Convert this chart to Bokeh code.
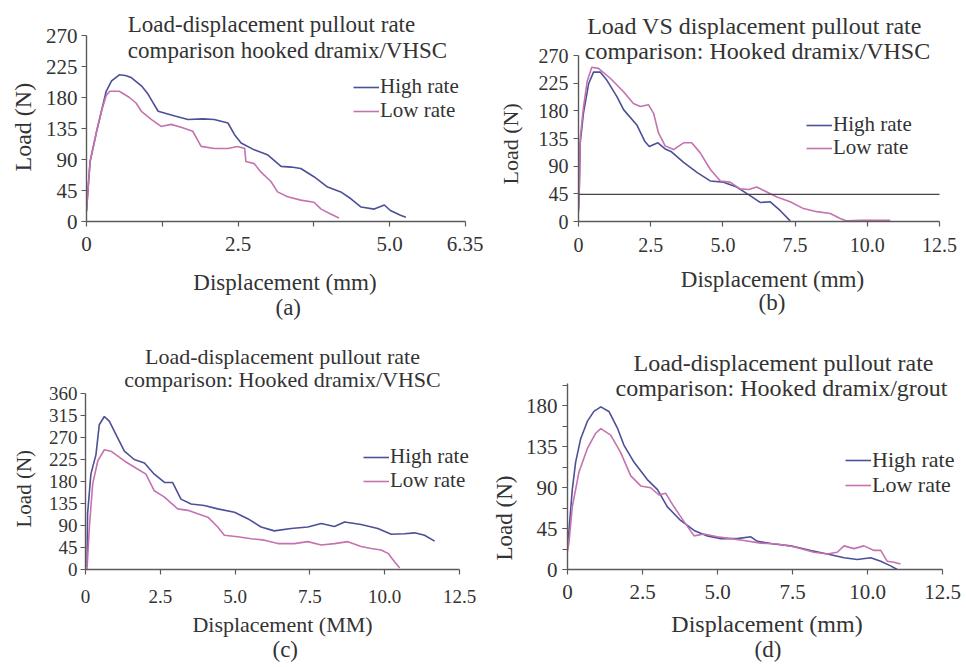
from bokeh.plotting import figure
from bokeh.models import Label, Legend, LegendItem, FixedTicker, Range1d, Title
from bokeh.layouts import column, row
from bokeh.embed import file_html
from bokeh.resources import INLINE

FONT = "Liberation Serif"
TEXT = "#333333"
AXIS = "#5a5a5a"
HIGH = "#4c5096"
LOW = "#c572ae"

series_names = ["High rate", "Low rate"]
y_label = "Load (N)"

# ---------------- Panel (a) ----------------
a_title = ["Load-displacement pullout rate", "comparison hooked dramix/VHSC"]
a_xlabel = "Displacement (mm)"
a_xticks = [0, 1.27, 2.54, 3.81, 5.08, 6.35]
a_xtick_labels = ["0", "", "2.5", "", "5.0", "6.35"]
a_yticks = [0, 45, 90, 135, 180, 225, 270]
a_high_x = [0.0, 0.01, 0.06, 0.17, 0.25, 0.33, 0.42, 0.55, 0.65, 0.75, 0.92, 1.03, 1.20, 1.48,
            1.70, 1.95, 2.14, 2.37, 2.48, 2.59, 2.81, 3.03, 3.26, 3.43, 3.59, 3.81, 4.04, 4.26,
            4.43, 4.60, 4.82, 4.99, 5.09, 5.26, 5.35]
a_high_y = [15, 28, 87, 131, 160, 189, 204, 213, 212, 209, 197, 185, 160, 153,
            148, 149, 148, 143, 126, 114, 104, 97, 80, 79, 77, 65, 50, 43,
            33, 21, 18, 24, 16, 9, 6]
a_low_x = [0.0, 0.01, 0.06, 0.17, 0.25, 0.33, 0.39, 0.55, 0.72, 0.83, 0.92, 1.09, 1.25, 1.42,
           1.61, 1.78, 1.92, 2.14, 2.37, 2.53, 2.65, 2.67, 2.81, 2.92, 3.09, 3.20, 3.37, 3.59,
           3.81, 3.93, 4.09, 4.23]
a_low_y = [15, 28, 87, 131, 160, 183, 189, 189, 180, 172, 160, 148, 138, 141,
           136, 131, 109, 106, 106, 109, 106, 87, 84, 72, 58, 43, 36, 31,
           28, 18, 11, 5]

# ---------------- Panel (b) ----------------
b_title = ["Load VS displacement pullout rate", "comparison: Hooked dramix/VHSC"]
b_xlabel = "Displacement (mm)"
b_xticks = [0, 2.5, 5.0, 7.5, 10.0, 12.5]
b_xtick_labels = ["0", "2.5", "5.0", "7.5", "10.0", "12.5"]
b_yticks = [0, 45, 90, 135, 180, 225, 270]
b_ref_load = 44
b_high_x = [0.0, 0.02, 0.06, 0.17, 0.35, 0.52, 0.75, 0.98, 1.33, 1.56, 2.02, 2.30, 2.45, 2.75,
            3.00, 3.20, 3.64, 4.10, 4.56, 5.02, 5.48, 5.94, 6.29, 6.64, 6.98, 7.33]
b_high_y = [20, 37, 128, 176, 224, 243, 243, 230, 203, 182, 157, 130, 122, 128,
            118, 114, 96, 80, 66, 64, 56, 42, 31, 32, 18, 1]
b_low_x = [0.0, 0.02, 0.06, 0.17, 0.30, 0.46, 0.69, 1.10, 1.56, 1.90, 2.14, 2.42, 2.60, 2.77,
           3.00, 3.29, 3.64, 3.92, 4.21, 4.56, 4.91, 5.25, 5.60, 5.90, 6.17, 6.52, 6.87, 7.33,
           7.79, 8.25, 8.72, 9.06, 9.29, 9.80, 10.30, 10.79]
b_low_y = [15, 40, 135, 185, 228, 251, 249, 233, 211, 192, 187, 190, 176, 144,
           123, 117, 128, 128, 112, 85, 66, 64, 53, 52, 56, 48, 40, 32,
           21, 16, 13, 5, 1, 2, 2, 2]

# ---------------- Panel (c) ----------------
c_title = ["Load-displacement pullout rate", "comparison: Hooked dramix/VHSC"]
c_xlabel = "Displacement (MM)"
c_xticks = [0, 2.5, 5.0, 7.5, 10.0, 12.5]
c_xtick_labels = ["0", "2.5", "5.0", "7.5", "10.0", "12.5"]
c_yticks = [0, 45, 90, 135, 180, 225, 270, 315, 360]
c_high_x = [0.05, 0.07, 0.18, 0.35, 0.46, 0.63, 0.80, 1.02, 1.30, 1.63, 1.97, 2.30, 2.64, 2.91,
            3.19, 3.53, 3.97, 4.42, 4.98, 5.42, 5.87, 6.31, 6.87, 7.43, 7.88, 8.32, 8.66, 9.21,
            9.77, 10.22, 10.66, 11.00, 11.33, 11.67]
c_high_y = [5, 114, 195, 235, 296, 313, 303, 276, 242, 225, 218, 195, 178, 178,
            144, 134, 131, 124, 117, 104, 87, 79, 84, 87, 94, 88, 97, 92,
            84, 72, 73, 75, 70, 58]
c_low_x = [0.05, 0.13, 0.24, 0.41, 0.63, 0.85, 1.30, 1.75, 2.02, 2.30, 2.64, 3.08, 3.42, 3.75,
           4.09, 4.42, 4.64, 5.09, 5.54, 5.98, 6.43, 6.98, 7.43, 7.88, 8.32, 8.77, 9.21, 9.55,
           9.88, 10.11, 10.33, 10.50]
c_low_y = [0, 87, 175, 222, 245, 242, 222, 205, 195, 161, 148, 124, 121, 114,
           107, 87, 70, 67, 63, 60, 53, 53, 57, 50, 53, 57, 47, 43,
           40, 33, 16, 3]

# ---------------- Panel (d) ----------------
d_title = ["Load-displacement pullout rate", "comparison: Hooked dramix/grout"]
d_xlabel = "Displacement (mm)"
d_xticks = [0, 2.5, 5.0, 7.5, 10.0, 12.5]
d_xtick_labels = ["0", "2.5", "5.0", "7.5", "10.0", "12.5"]
d_yticks = [0, 45, 90, 135, 180]
d_yminor = [0, 22.5, 45, 67.5, 90, 112.5, 135, 157.5, 180, 202.5]
d_high_x = [0.0, 0.05, 0.16, 0.27, 0.44, 0.66, 0.88, 1.11, 1.38, 1.66, 1.88, 2.22, 2.66, 3.00,
            3.33, 3.77, 4.22, 4.66, 5.11, 5.66, 6.11, 6.33, 6.88, 7.44, 8.11, 8.66, 9.22, 9.66,
            10.11, 10.44, 10.77, 10.99]
d_high_y = [30, 43, 88, 118, 144, 163, 174, 179, 174, 156, 137, 118, 99, 88,
            69, 54, 43, 37, 34, 34, 36, 31, 28, 26, 21, 17, 13, 11,
            13, 9, 4, 0]
d_low_x = [0.0, 0.05, 0.16, 0.38, 0.66, 0.94, 1.11, 1.44, 1.77, 2.11, 2.44, 2.77, 3.05, 3.27,
           3.55, 3.88, 4.22, 4.55, 4.99, 5.44, 5.88, 6.44, 6.99, 7.55, 8.21, 8.66, 8.99, 9.22,
           9.55, 9.88, 10.22, 10.44, 10.66, 10.88, 11.10]
d_low_y = [20, 30, 69, 107, 133, 150, 155, 148, 129, 103, 92, 90, 82, 84,
           69, 53, 37, 39, 36, 34, 32, 29, 28, 25, 19, 17, 19, 26,
           23, 26, 21, 21, 9, 8, 6]


def make_panel(cfg):
    W, H = cfg["size"]
    left, right, top, bottom = cfg["borders"]
    (x0, x1), (y0, y1) = cfg["xb"], cfg["yb"]
    # pixel geometry of the visible axes -> data ranges of the (larger) frame
    fw, fh = W - left - right, H - top - bottom
    xs = cfg["x_len_px"] / (x1 - x0)
    ys = cfg["y_len_px"] / (y1 - y0)
    p = figure(width=W, height=H, title=None,
               x_range=Range1d(x0, x0 + fw / xs), y_range=Range1d(y0, y0 + fh / ys),
               output_backend="svg", toolbar_location=None,
               min_border_left=left, min_border_right=right,
               min_border_top=top, min_border_bottom=bottom)
    p.outline_line_color = None
    p.xgrid.visible = False
    p.ygrid.visible = False
    p.background_fill_color = "white"
    p.border_fill_color = "white"

    r1 = p.line(cfg["hx"], cfg["hy"], line_color=HIGH, line_width=1.6)
    r2 = p.line(cfg["lx"], cfg["ly"], line_color=LOW, line_width=1.6)

    for ax in (p.xaxis[0], p.yaxis[0]):
        ax.axis_line_color = AXIS
        ax.axis_line_width = 1.4
        ax.major_tick_line_color = AXIS
        ax.major_tick_line_width = 1.2
        ax.major_tick_out = 5
        ax.major_tick_in = 0
        ax.minor_tick_line_color = AXIS
        ax.minor_tick_line_width = 1.2
        ax.minor_tick_out = 5
        ax.minor_tick_in = 0
        ax.major_label_text_font = FONT
        ax.major_label_text_color = TEXT
        ax.axis_label_text_font = FONT
        ax.axis_label_text_color = TEXT
        ax.axis_label_text_font_style = "normal"

    xa = p.xaxis[0]
    xa.bounds = (x0, x1)
    xa.ticker = FixedTicker(ticks=cfg["xticks"])
    xa.major_label_overrides = {t: s for t, s in zip(cfg["xticks"], cfg["xtick_labels"])}
    xa.major_label_text_font_size = cfg["tick_fs"]
    xa.major_label_standoff = cfg["xstand"]
    xa.axis_label = cfg["xlabel"]
    xa.axis_label_text_font_size = cfg["label_fs"]
    xa.axis_label_standoff = cfg["xlab_stand"]

    ya = p.yaxis[0]
    ya.bounds = (y0, y1)
    ya.ticker = FixedTicker(ticks=cfg["yticks"], minor_ticks=cfg.get("yminor", []))
    ya.major_label_text_font_size = cfg["tick_fs"]
    ya.major_label_standoff = cfg["ystand"]

    # y axis title (rotated), placed along the axis
    p.add_layout(Title(text=y_label, align="left", offset=cfg["ylab_off"], standoff=cfg["ylab_stand"],
                       text_font=FONT, text_font_size=cfg["ylabel_fs"], text_font_style="normal",
                       text_color=TEXT), "left")
    # panel caption below the axis
    p.add_layout(Title(text=cfg["caption"], align="left", offset=cfg["cap_off"], standoff=cfg["cap_stand"],
                       vertical_align="top", text_font=FONT, text_font_size="23px",
                       text_font_style="normal", text_color=TEXT), "below")

    if "ref" in cfg:
        p.segment(x0=[x0], x1=[x1], y0=[cfg["ref"]], y1=[cfg["ref"]], line_color="#444444", line_width=1.3)

    # one legend per series so that the two rows can sit as close as in the original
    for name, rend, loc in zip(series_names, (r1, r2), cfg["legend_locs"]):
        lg = Legend(items=[LegendItem(label=name, renderers=[rend])],
                    location=loc, label_text_font=FONT,
                    label_text_font_size=cfg["legend_fs"], label_text_color=TEXT,
                    glyph_width=26, glyph_height=16, label_height=16, spacing=0,
                    padding=0, margin=0, label_standoff=1,
                    border_line_color=None, background_fill_alpha=0)
        p.add_layout(lg)

    # frame origin in window coordinates
    ox, oy = cfg["offset"]
    fx0 = ox + left
    fy0 = oy + H - bottom

    def put(text, wx, wy, fs):
        p.add_layout(Label(x=wx - fx0, y=fy0 - wy, x_units="screen", y_units="screen",
                           text=text, text_align="center", text_baseline="middle",
                           text_font=FONT, text_font_size=fs, text_color=TEXT))

    (t1x, t1y), (t2x, t2y) = cfg["title_pos"]
    put(cfg["title"][0], t1x, t1y, cfg["title_fs"])
    put(cfg["title"][1], t2x, t2y, cfg["title_fs"])
    return p


# plots in one row share their bottom border, so each row uses one value
ROW1_BOTTOM = 109
ROW2_BOTTOM = 98

pa = make_panel(dict(size=(483, 330), borders=(85, 0, 0, ROW1_BOTTOM), offset=(0, 0),
                     xb=(0, 6.35), yb=(0, 270), x_len_px=380, y_len_px=186,
                     hx=a_high_x, hy=a_high_y, lx=a_low_x, ly=a_low_y,
                     xticks=a_xticks, xtick_labels=a_xtick_labels, yticks=a_yticks,
                     tick_fs="21px", xstand=10, ystand=4, xlabel=a_xlabel, label_fs="23px",
                     xlab_stand=16, ylabel_fs="24px", ylab_off=50, ylab_stand=14,
                     legend_locs=((267, 122), (267, 98)), legend_fs="21px",
                     title=a_title, title_pos=((270, 24), (286, 50)), title_fs="23px",
                     caption="(a)", cap_off=189, cap_stand=-6))

pb = make_panel(dict(size=(483, 330), borders=(95, 0, 0, ROW1_BOTTOM), offset=(483, 0),
                     xb=(0, 12.5), yb=(0, 270), x_len_px=361, y_len_px=166,
                     hx=b_high_x, hy=b_high_y, lx=b_low_x, ly=b_low_y,
                     xticks=b_xticks, xtick_labels=b_xtick_labels, yticks=b_yticks,
                     tick_fs="20px", xstand=11, ystand=5, xlabel=b_xlabel, label_fs="23px",
                     xlab_stand=12, ylabel_fs="22px", ylab_off=37, ylab_stand=25,
                     legend_locs=((228, 84), (228, 61)), legend_fs="21px",
                     title=b_title, title_pos=((754, 25), (757, 50)), title_fs="24px",
                     caption="(b)", cap_off=180, cap_stand=-10, ref=b_ref_load))

pc = make_panel(dict(size=(483, 337), borders=(85, 4, 0, ROW2_BOTTOM), offset=(0, 330),
                     xb=(0, 12.5), yb=(0, 360), x_len_px=374, y_len_px=176,
                     hx=c_high_x, hy=c_high_y, lx=c_low_x, ly=c_low_y,
                     xticks=c_xticks, xtick_labels=c_xtick_labels, yticks=c_yticks,
                     tick_fs="19px", xstand=15, ystand=3, xlabel=c_xlabel, label_fs="22px",
                     xlab_stand=6, ylabel_fs="21px", ylab_off=42, ylab_stand=19,
                     legend_locs=((278, 100), (278, 76)), legend_fs="21px",
                     title=c_title, title_pos=((282, 356), (282, 379)), title_fs="22px",
                     caption="(c)", cap_off=187, cap_stand=-6))

pd_ = make_panel(dict(size=(483, 337), borders=(84, 0, 0, ROW2_BOTTOM), offset=(483, 330),
                      xb=(0, 12.5), yb=(0, 204.75), x_len_px=375, y_len_px=186,
                      hx=d_high_x, hy=d_high_y, lx=d_low_x, ly=d_low_y,
                      xticks=d_xticks, xtick_labels=d_xtick_labels, yticks=d_yticks, yminor=d_yminor,
                      tick_fs="21px", xstand=10, ystand=5, xlabel=d_xlabel, label_fs="24px",
                      xlab_stand=9, ylabel_fs="23px", ylab_off=9, ylab_stand=12,
                      legend_locs=((278, 96), (278, 71)), legend_fs="22px",
                      title=d_title, title_pos=((783, 362), (781, 387)), title_fs="24px",
                      caption="(d)", cap_off=187, cap_stand=-6))

layout = column(row(pa, pb), row(pc, pd_))
open("out.html", "w").write(file_html(layout, INLINE))
